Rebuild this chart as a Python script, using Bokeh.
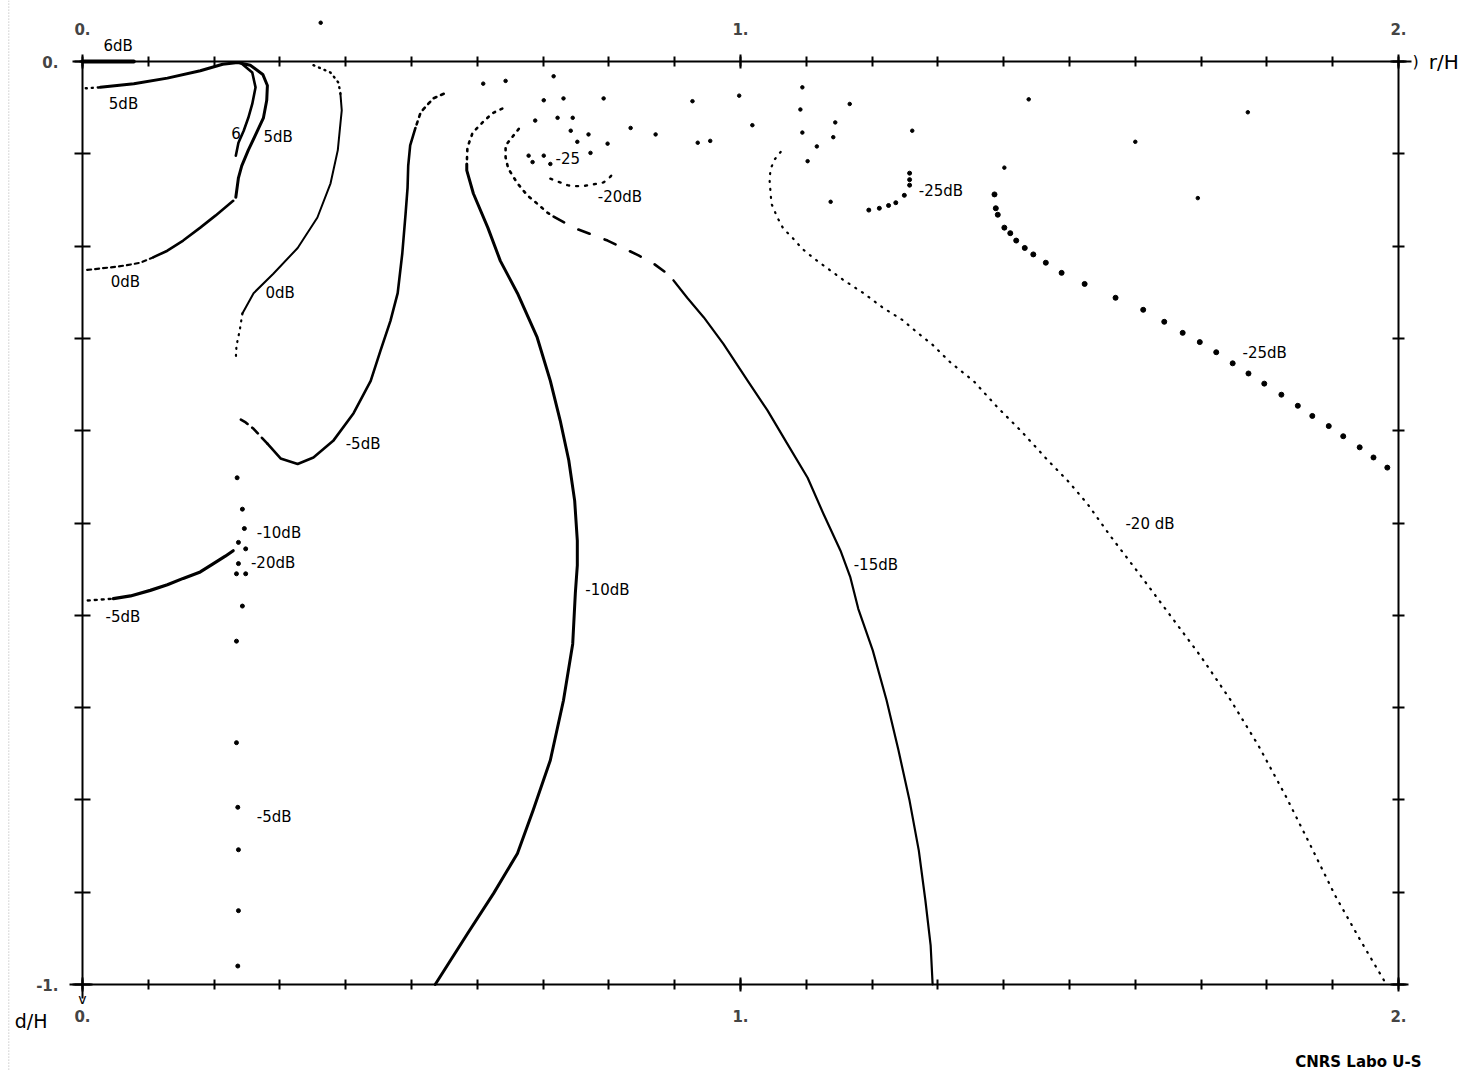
from bokeh.plotting import figure
from bokeh.models import Range1d, LinearAxis, FixedTicker
from bokeh.embed import file_html
from bokeh.resources import INLINE
from bokeh.core.properties import value

# ---------------- ticks ----------------
x_major = [0, 1, 2]
x_labels = ["0.", "1.", "2."]
x_minor = [0.0, 0.1, 0.2, 0.3, 0.4, 0.5, 0.6, 0.7, 0.8, 0.9, 1.0,
           1.1, 1.2, 1.3, 1.4, 1.5, 1.6, 1.7, 1.8, 1.9, 2.0]
y_major = [0, -1]
y_labels = ["0.", "-1."]
y_minor = [0.0, -0.1, -0.2, -0.3, -0.4, -0.5, -0.6, -0.7, -0.8, -0.9, -1.0]

# ---------------- contour data (r/H, -d/H) ----------------
six_top_x = [0.0, 0.078]
six_top_y = [0.0, 0.0]

five_dot_x = [0.005, 0.027]
five_dot_y = [-0.029, -0.028]
five_x = [0.027, 0.078, 0.129, 0.179, 0.213, 0.236, 0.255, 0.274, 0.281, 0.280,
          0.275, 0.264, 0.252, 0.242, 0.237, 0.233]
five_y = [-0.028, -0.024, -0.018, -0.010, -0.003, -0.001, -0.004, -0.014, -0.026, -0.042,
          -0.061, -0.078, -0.096, -0.113, -0.126, -0.147]

six_in_x = [0.240, 0.258, 0.263, 0.258, 0.252, 0.245, 0.237, 0.233]
six_in_y = [-0.001, -0.012, -0.028, -0.046, -0.061, -0.075, -0.088, -0.102]

zero_l_x = [0.229, 0.202, 0.179, 0.153, 0.129, 0.108]
zero_l_y = [-0.151, -0.167, -0.180, -0.194, -0.205, -0.212]
zero_l_dot_x = [0.108, 0.088, 0.065, 0.043, 0.005]
zero_l_dot_y = [-0.212, -0.218, -0.221, -0.223, -0.226]

zero_r_dot1_x = [0.351, 0.377, 0.389, 0.392]
zero_r_dot1_y = [-0.004, -0.012, -0.023, -0.035]
zero_r_x = [0.392, 0.394, 0.392, 0.388, 0.377, 0.357, 0.327, 0.290, 0.260, 0.243]
zero_r_y = [-0.035, -0.053, -0.067, -0.096, -0.132, -0.169, -0.202, -0.230, -0.251, -0.273]
zero_r_dot2_x = [0.243, 0.239, 0.234, 0.233]
zero_r_dot2_y = [-0.273, -0.291, -0.308, -0.322]

m5u_dot_x = [0.549, 0.533, 0.514, 0.506]
m5u_dot_y = [-0.035, -0.040, -0.055, -0.072]
m5u_x = [0.506, 0.498, 0.495, 0.494, 0.491, 0.486, 0.479, 0.468, 0.453, 0.438,
         0.412, 0.381, 0.351, 0.327, 0.301, 0.281]
m5u_y = [-0.072, -0.091, -0.113, -0.137, -0.165, -0.208, -0.251, -0.281, -0.313, -0.346,
         -0.381, -0.411, -0.429, -0.436, -0.430, -0.414]
m5u_dash_x = [0.281, 0.260, 0.248, 0.236]
m5u_dash_y = [-0.414, -0.398, -0.391, -0.386]

m5l_dot_x = [0.008, 0.027, 0.047]
m5l_dot_y = [-0.584, -0.583, -0.582]
m5l_x = [0.047, 0.073, 0.103, 0.129, 0.153, 0.179, 0.199, 0.217, 0.229]
m5l_y = [-0.582, -0.579, -0.573, -0.567, -0.560, -0.553, -0.544, -0.536, -0.530]

vert_x = [0.235, 0.243, 0.246, 0.237, 0.248, 0.237, 0.234, 0.248, 0.243, 0.234,
          0.234, 0.236, 0.237, 0.237, 0.236]
vert_y = [-0.451, -0.485, -0.506, -0.521, -0.528, -0.544, -0.555, -0.555, -0.590, -0.628,
          -0.738, -0.808, -0.854, -0.920, -0.980]

m10_dot_x = [0.638, 0.623, 0.608, 0.593, 0.585, 0.584]
m10_dot_y = [-0.051, -0.056, -0.066, -0.077, -0.093, -0.111]
m10_x = [0.584, 0.584, 0.594, 0.616, 0.635, 0.661, 0.691, 0.711, 0.726, 0.739, 0.748,
         0.752, 0.752, 0.749, 0.745, 0.731, 0.711, 0.685, 0.661, 0.625, 0.585, 0.536]
m10_y = [-0.111, -0.118, -0.143, -0.180, -0.216, -0.251, -0.299, -0.346, -0.389, -0.432, -0.476,
         -0.519, -0.546, -0.576, -0.631, -0.692, -0.757, -0.811, -0.858, -0.901, -0.945, -1.0]

m15_dot_x = [0.663, 0.643, 0.643, 0.647, 0.661, 0.676, 0.691, 0.707, 0.716]
m15_dot_y = [-0.073, -0.091, -0.104, -0.116, -0.132, -0.145, -0.154, -0.164, -0.168]
m15_dash_x = [0.716, 0.746, 0.798, 0.845, 0.868, 0.889, 0.898]
m15_dash_y = [-0.168, -0.180, -0.194, -0.210, -0.219, -0.230, -0.237]
m15_x = [0.898, 0.919, 0.944, 0.974, 1.011, 1.041, 1.071, 1.102, 1.126, 1.152,
         1.167, 1.179, 1.201, 1.222, 1.240, 1.257, 1.271, 1.281, 1.289, 1.292]
m15_y = [-0.237, -0.256, -0.277, -0.306, -0.346, -0.378, -0.414, -0.451, -0.490, -0.530,
         -0.559, -0.593, -0.638, -0.692, -0.746, -0.801, -0.855, -0.909, -0.958, -1.0]

m20_in_x = [0.711, 0.737, 0.746, 0.761, 0.777, 0.792, 0.802, 0.810]
m20_in_y = [-0.127, -0.134, -0.135, -0.135, -0.133, -0.131, -0.125, -0.118]

m25_in_x = [0.678, 0.684, 0.701, 0.711, 0.772]
m25_in_y = [-0.102, -0.109, -0.102, -0.111, -0.099]

m25_small_x = [1.195, 1.211, 1.225, 1.236, 1.249, 1.257, 1.257, 1.257]
m25_small_y = [-0.161, -0.159, -0.156, -0.153, -0.145, -0.134, -0.128, -0.121]

m20_x = [1.061, 1.052, 1.046, 1.044, 1.047, 1.056, 1.065, 1.079, 1.094, 1.111,
         1.132, 1.157, 1.187, 1.217, 1.246, 1.271, 1.292, 1.319, 1.354, 1.391,
         1.426, 1.467, 1.497, 1.527, 1.562, 1.608, 1.653, 1.699, 1.745, 1.787,
         1.828, 1.866, 1.904, 1.942, 1.980]
m20_y = [-0.098, -0.106, -0.116, -0.127, -0.154, -0.169, -0.181, -0.191, -0.203, -0.213,
         -0.224, -0.237, -0.251, -0.267, -0.280, -0.295, -0.307, -0.326, -0.346, -0.375,
         -0.400, -0.432, -0.454, -0.479, -0.514, -0.557, -0.600, -0.644, -0.692, -0.741,
         -0.795, -0.849, -0.904, -0.952, -0.998]

m25_x = [1.386, 1.388, 1.391, 1.401, 1.410, 1.419, 1.432, 1.445, 1.464, 1.488,
         1.523, 1.570, 1.612, 1.644, 1.672, 1.698, 1.723, 1.748, 1.772, 1.796,
         1.822, 1.847, 1.869, 1.894, 1.916, 1.941, 1.962, 1.983]
m25_y = [-0.144, -0.159, -0.166, -0.180, -0.186, -0.194, -0.202, -0.209, -0.218, -0.229,
         -0.241, -0.256, -0.269, -0.282, -0.294, -0.304, -0.315, -0.327, -0.338, -0.349,
         -0.361, -0.373, -0.384, -0.395, -0.406, -0.418, -0.429, -0.440]

sparse_x = [0.609, 0.643, 0.716, 0.701, 0.688, 0.731, 0.792, 0.722, 0.745, 0.742,
            0.769, 0.752, 0.798, 0.833, 0.871, 0.927, 0.935, 0.954, 0.998, 1.018,
            1.094, 1.091, 1.094, 1.102, 1.116, 1.141, 1.144, 1.166, 1.137, 1.261,
            1.401, 1.438, 1.600, 1.771, 1.695, 0.362]
sparse_y = [-0.024, -0.021, -0.016, -0.042, -0.064, -0.040, -0.040, -0.061, -0.061, -0.075,
            -0.079, -0.087, -0.089, -0.072, -0.079, -0.043, -0.088, -0.086, -0.037, -0.069,
            -0.028, -0.052, -0.077, -0.108, -0.092, -0.082, -0.066, -0.046, -0.152, -0.075,
            -0.115, -0.041, -0.087, -0.055, -0.148, 0.042]

# contour labels
lab_text = ["6dB", "5dB", "6", "5dB", "0dB", "0dB", "-5dB", "-10dB", "-20dB", "-5dB",
            "-5dB", "-10dB", "-15dB", "-20 dB", "-25dB", "-25dB", "-25", "-20dB"]
lab_x = [0.032, 0.040, 0.226, 0.275, 0.043, 0.278, 0.400, 0.265, 0.256, 0.035,
         0.265, 0.764, 1.172, 1.585, 1.763, 1.271, 0.719, 0.783]
lab_y = [0.017, -0.046, -0.077, -0.082, -0.239, -0.251, -0.414, -0.511, -0.543, -0.602,
         -0.819, -0.573, -0.546, -0.501, -0.316, -0.140, -0.105, -0.147]

# ---------------- figure ----------------
p = figure(width=1470, height=1070,
           x_range=Range1d(-0.12462, 2.10942), y_range=Range1d(-1.09317, 0.06609),
           x_axis_type=None, y_axis_type=None, toolbar_location=None,
           output_backend="svg", min_border=0, outline_line_color=None)
p.min_border_left = p.min_border_right = p.min_border_top = p.min_border_bottom = 0
p.background_fill_color = "white"
p.border_fill_color = "white"

FONT = "DejaVu Sans"


def make_axis(loc, bounds, major, minor, labels, tick, standoff, show_labels=True):
    ax = LinearAxis(fixed_location=loc, bounds=bounds,
                    ticker=FixedTicker(ticks=major, minor_ticks=minor),
                    major_label_overrides=dict(zip(major, labels)))
    ax.axis_line_width = 2
    ax.axis_line_color = "black"
    ax.major_tick_line_width = 2
    ax.minor_tick_line_width = 2
    ax.major_tick_in = tick + 2
    ax.major_tick_out = tick + 2
    ax.minor_tick_in = tick
    ax.minor_tick_out = tick
    ax.major_label_text_font = FONT
    ax.major_label_text_font_style = "bold"
    ax.major_label_text_font_size = "15px"
    ax.major_label_standoff = standoff
    if not show_labels:
        ax.major_label_text_color = None
    return ax


p.add_layout(make_axis(0, (-0.005, 2.02), x_major, x_minor, x_labels, 5, 20), "above")
p.add_layout(make_axis(-1, (-0.02, 2.015), x_major, x_minor, x_labels, 5, 18), "below")
p.add_layout(make_axis(0, (-1.015, 0), y_major, y_minor, y_labels, 8, 14), "left")
p.add_layout(make_axis(2, (-1, 0), y_major, y_minor, y_labels, 6, 10, False), "right")

# scan edge
p.line([-0.112, -0.112], [0.066, -1.093], line_color="#b0b0b0", line_width=1, line_dash="1 2")


def solid(x, y, w=2.6):
    p.line(x, y, line_color="black", line_width=w, line_cap="round", line_join="round")


def dotted(x, y, w=2.4, dash="1 5"):
    p.line(x, y, line_color="black", line_width=w, line_cap="round", line_dash=dash)


solid(six_top_x, six_top_y, 4)
dotted(five_dot_x, five_dot_y)
solid(five_x, five_y, 3)
solid(six_in_x, six_in_y, 2.6)
solid(zero_l_x, zero_l_y, 2.6)
dotted(zero_l_dot_x, zero_l_dot_y, 2.2, "4 4")
dotted(zero_r_dot1_x, zero_r_dot1_y)
solid(zero_r_x, zero_r_y, 2)
dotted(zero_r_dot2_x, zero_r_dot2_y, 2.2, "1 6")
dotted(m5u_dot_x, m5u_dot_y, 2.6, "3 5")
solid(m5u_x, m5u_y, 2.6)
dotted(m5u_dash_x, m5u_dash_y, 2.6, "8 6")
dotted(m5l_dot_x, m5l_dot_y, 2.4, "2 5")
solid(m5l_x, m5l_y, 3.2)
p.scatter(vert_x, vert_y, size=4, color="black")
dotted(m10_dot_x, m10_dot_y, 2.6, "2 6")
solid(m10_x, m10_y, 3)
dotted(m15_dot_x, m15_dot_y, 2.6, "2 6")
dotted(m15_dash_x, m15_dash_y, 2.6, "12 16")
solid(m15_x, m15_y, 2.2)
dotted(m20_in_x, m20_in_y, 2.4, "2 7")
p.scatter(m25_in_x, m25_in_y, size=3.5, color="black")
p.scatter(m25_small_x, m25_small_y, size=4, color="black")
dotted(m20_x, m20_y, 2.2, "1 7")
p.scatter(m25_x, m25_y, size=5, color="black")
p.scatter(sparse_x, sparse_y, size=3.5, color="black")

p.text(lab_x, lab_y, text=lab_text, text_font=value(FONT), text_font_size="15px",
       text_baseline="middle", text_align="left", text_color="black")

# axis names and arrows
p.text([2.026], [0.0], text=[")"], text_font=value(FONT), text_font_size="16px",
       text_baseline="middle", text_align="center")
p.text([2.046], [0.0], text=["r/H"], text_font=value(FONT), text_font_size="20px",
       text_baseline="middle", text_align="left")
p.text([0.0], [-1.016], text=["v"], text_font=value(FONT), text_font_size="14px",
       text_baseline="middle", text_align="center")
p.text([-0.103], [-1.039], text=["d/H"], text_font=value(FONT), text_font_size="19px",
       text_baseline="middle", text_align="left")
p.text([1.843], [-1.0845], text=["CNRS Labo U-S"], text_font=value(FONT), text_font_size="15px",
       text_font_style="bold", text_baseline="middle", text_align="left")

open("out.html", "w").write(file_html(p, INLINE))
